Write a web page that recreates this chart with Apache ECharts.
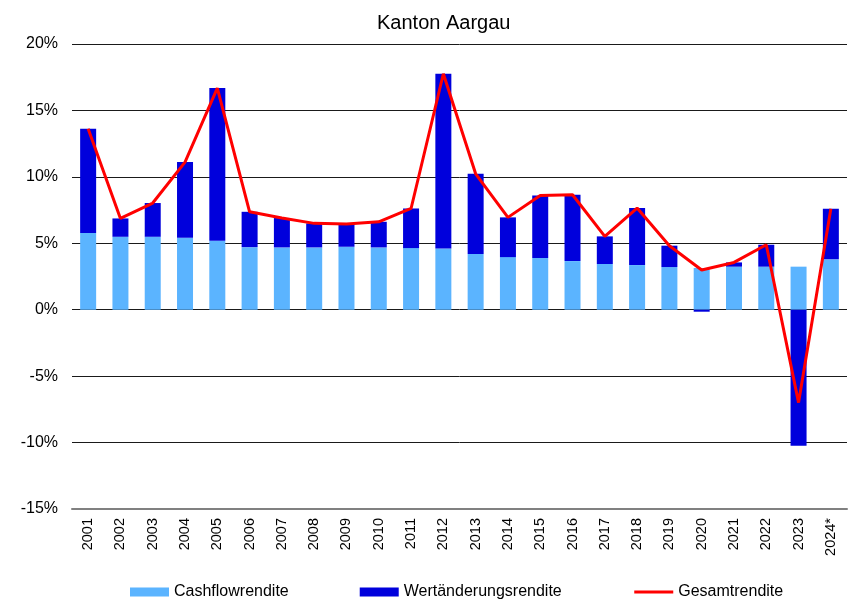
<!DOCTYPE html>
<html>
<head>
<meta charset="utf-8">
<script src="https://cdn.jsdelivr.net/npm/echarts@6/dist/echarts.min.js"></script>
<style>html,body{margin:0;padding:0;background:#fff}#c{width:850px;height:601px}</style>
</head>
<body>
<div id="c"></div>
<script>
const categories = ['2001','2002','2003','2004','2005','2006','2007','2008','2009','2010','2011','2012','2013','2014','2015','2016','2017','2018','2019','2020','2021','2022','2023','2024*'];
const cashflowrendite = [5.77,5.49,5.49,5.42,5.19,4.71,4.69,4.69,4.74,4.69,4.64,4.61,4.19,3.96,3.89,3.66,3.44,3.36,3.21,3.14,3.24,3.24,3.24,3.79];
const wertaenderungsrendite = [7.85,1.38,2.54,5.69,11.49,2.66,2.21,1.81,1.71,1.93,2.98,13.15,6.04,2.99,4.71,4.99,2.08,4.29,1.61,-0.15,0.32,1.65,-10.23,3.81];
const gesamtrendite = [13.62,6.87,8.03,11.11,16.68,7.37,6.90,6.50,6.45,6.62,7.62,17.76,10.23,6.95,8.60,8.65,5.52,7.65,4.82,2.99,3.56,4.89,-6.99,7.60];
const yTicks = {min:-15, max:20, interval:5};

const font = 'Liberation Sans, Arial, sans-serif';
const chart = echarts.init(document.getElementById('c'), null, {renderer:'canvas'});
chart.setOption({
  animation:false,
  backgroundColor:'#fff',
  title:{text:'Kanton Aargau', left:372, top:8, textStyle:{fontFamily:font, fontSize:20, fontWeight:'normal', color:'#000'}},
  legend:{
    left:125, top:579, itemWidth:39, itemHeight:9, itemGap:71,
    textStyle:{fontFamily:font, fontSize:16, color:'#000'},
    data:[{name:'Cashflowrendite', icon:'rect'},{name:'Wertänderungsrendite', icon:'rect'},{name:'Gesamtrendite', itemStyle:{opacity:0}, lineStyle:{width:3, color:'#FF0000'}}]
  },
  grid:{left:72, right:3, top:44, bottom:92, containLabel:false},
  xAxis:{
    type:'category', data:categories,
    axisLine:{onZero:false, lineStyle:{color:'#808080', width:2}},
    axisTick:{show:false},
    axisLabel:{rotate:90, margin:9, fontFamily:font, fontSize:14.5, color:'#000', interval:0}
  },
  yAxis:{
    type:'value', min:yTicks.min, max:yTicks.max, interval:yTicks.interval,
    axisLine:{show:false}, axisTick:{show:false},
    axisLabel:{formatter:'{value}%', margin:14, fontFamily:font, fontSize:16, color:'#000'},
    splitLine:{lineStyle:{color:'#1a1a1a', width:1}}
  },
  series:[
    {name:'Cashflowrendite', type:'bar', stack:'r', barWidth:16, data:cashflowrendite, itemStyle:{color:'#5BB4FF'}},
    {name:'Wertänderungsrendite', type:'bar', stack:'r', barWidth:16, data:wertaenderungsrendite, itemStyle:{color:'#0000DC'}},
    {name:'Gesamtrendite', type:'line', data:gesamtrendite, symbol:'none', lineStyle:{color:'#FF0000', width:3}, itemStyle:{color:'#FF0000'}, z:5}
  ]
});
</script>
</body>
</html>
